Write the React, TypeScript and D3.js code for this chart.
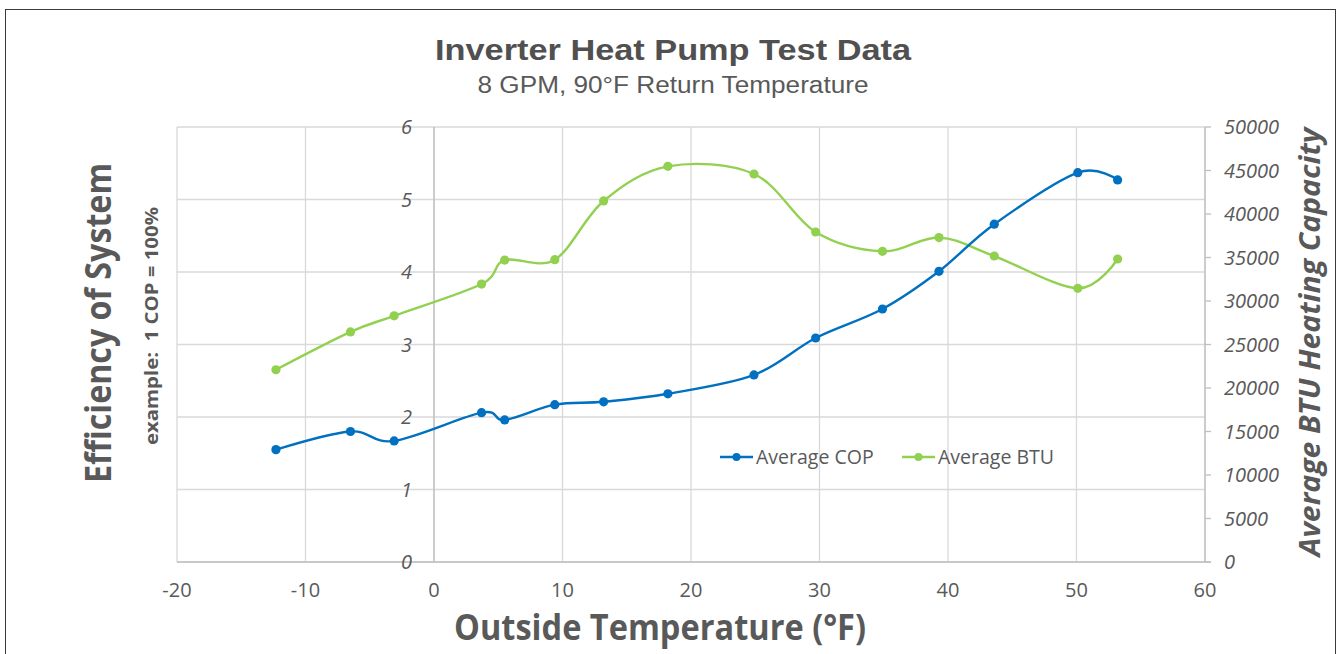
import React from "react";
import { scaleLinear, line, curveCardinal } from "d3";

// outside temperature (°F) of each test run
const temps = [-12.3, -6.5, -3.1, 3.7, 5.5, 9.4, 13.2, 18.2, 24.9, 29.7, 34.9, 39.3, 43.6, 50.1, 53.2];
// average COP per run (left axis)
const copValues = [1.55, 1.8, 1.67, 2.06, 1.96, 2.17, 2.21, 2.32, 2.58, 3.09, 3.49, 4.01, 4.66, 5.37, 5.27];
// average BTU heating capacity per run (right axis)
const btuValues = [22100, 26450, 28300, 31950, 34700, 34750, 41500, 45480, 44600, 37930, 35710, 37290, 35170, 31460, 34830];

const xTicks = [-20, -10, 0, 10, 20, 30, 40, 50, 60];
const copTicks = [0, 1, 2, 3, 4, 5, 6];
const btuTicks = [0, 5000, 10000, 15000, 20000, 25000, 30000, 35000, 40000, 45000, 50000];

const seriesNames = ["Average COP", "Average BTU"];
const BLUE = "#0070C0";
const GREEN = "#92D050";
const GREY = "#595959";
const FONT = "'Open Sans', sans-serif";
const NARROW = "'Liberation Sans Narrow', 'Liberation Sans', sans-serif";

const W = 1341;
const H = 654;
const plot = { left: 177, right: 1205, top: 127, bottom: 562 };

export default function App() {
  const x = scaleLinear().domain([-20, 60]).range([plot.left, plot.right]);
  const yCop = scaleLinear().domain([0, 6]).range([plot.bottom, plot.top]);
  const yBtu = scaleLinear().domain([0, 50000]).range([plot.bottom, plot.top]);

  const copLine = line<number>()
    .x((_, i) => x(temps[i]))
    .y(d => yCop(d))
    .curve(curveCardinal);
  const btuLine = line<number>()
    .x((_, i) => x(temps[i]))
    .y(d => yBtu(d))
    .curve(curveCardinal);

  const legendY = 457;

  return (
    <svg
      width={W}
      height={H}
      style={{ position: "absolute", left: 0, top: 0, background: "#fff" }}
    >
      <rect x={5.5} y={9.5} width={1330} height={700} fill="#fff" stroke="#3a3a3a" strokeWidth={1} />

      {/* titles */}
      <text x={673} y={60} textAnchor="middle" fontFamily={NARROW} fontWeight="bold" fontSize={30} fill="#505050"
        textLength={476} lengthAdjust="spacingAndGlyphs">
        Inverter Heat Pump Test Data
      </text>
      <text x={673} y={93} textAnchor="middle" fontFamily={NARROW} fontSize={23} fill={GREY}
        textLength={391} lengthAdjust="spacingAndGlyphs">
        8 GPM, 90°F Return Temperature
      </text>

      {/* gridlines */}
      {copTicks.map(t => (
        <line key={"h" + t} x1={plot.left} x2={plot.right} y1={yCop(t)} y2={yCop(t)} stroke="#d9d9d9" strokeWidth={1.3} />
      ))}
      {xTicks.map(t => (
        <line key={"v" + t} x1={x(t)} x2={x(t)} y1={plot.top} y2={plot.bottom} stroke="#d9d9d9" strokeWidth={1.3} />
      ))}
      {/* axes lines */}
      <line x1={x(0)} x2={x(0)} y1={plot.top} y2={plot.bottom} stroke="#bfbfbf" strokeWidth={1.3} />
      <line x1={plot.left} x2={plot.right + 6} y1={plot.bottom} y2={plot.bottom} stroke="#bfbfbf" strokeWidth={1.5} />
      <line x1={plot.right} x2={plot.right} y1={plot.top} y2={plot.bottom} stroke="#bfbfbf" strokeWidth={1.3} />
      {btuTicks.map(t => (
        <line key={"rt" + t} x1={plot.right} x2={plot.right + 6} y1={yBtu(t)} y2={yBtu(t)} stroke="#bfbfbf" strokeWidth={1.3} />
      ))}

      {/* tick labels */}
      {copTicks.map(t => (
        <text key={"lc" + t} x={x(0) - 22} y={yCop(t) + 7} textAnchor="end" fontFamily={FONT} fontStyle="italic"
          fontSize={20} fill={GREY}>
          {t}
        </text>
      ))}
      {btuTicks.map(t => (
        <text key={"lb" + t} x={plot.right + 19} y={yBtu(t) + 7} textAnchor="start" fontFamily={FONT} fontStyle="italic"
          fontSize={20} fill={GREY}>
          {t}
        </text>
      ))}
      {xTicks.map(t => (
        <text key={"lx" + t} x={x(t)} y={597} textAnchor="middle" fontFamily={FONT} fontSize={20} fill={GREY}>
          {t}
        </text>
      ))}

      {/* axis titles */}
      <text x={660} y={640} textAnchor="middle" fontFamily={FONT} fontWeight="bold" fontSize={35} fill={GREY}
        textLength={412} lengthAdjust="spacingAndGlyphs">
        Outside Temperature (°F)
      </text>
      <text transform="translate(111,323) rotate(-90)" textAnchor="middle" fontFamily={FONT} fontWeight="bold"
        fontSize={35} fill={GREY} textLength={320} lengthAdjust="spacingAndGlyphs">
        Efficiency of System
      </text>
      <text transform="translate(158,326) rotate(-90)" textAnchor="middle" fontFamily={FONT} fontWeight="bold"
        fontSize={17} fill={GREY} textLength={238} lengthAdjust="spacingAndGlyphs" style={{ whiteSpace: "pre" }}>
        {"example:  1 COP = 100%"}
      </text>
      <text transform="translate(1320,342) rotate(-90)" textAnchor="middle" fontFamily={FONT} fontWeight="bold"
        fontStyle="italic" fontSize={28} fill={GREY} textLength={429} lengthAdjust="spacingAndGlyphs">
        Average BTU Heating Capacity
      </text>

      {/* series */}
      <path d={btuLine(btuValues) ?? ""} fill="none" stroke={GREEN} strokeWidth={2.4} />
      {btuValues.map((v, i) => (
        <circle key={"gb" + i} cx={x(temps[i])} cy={yBtu(v)} r={4.6} fill={GREEN} />
      ))}
      <path d={copLine(copValues) ?? ""} fill="none" stroke={BLUE} strokeWidth={2.4} />
      {copValues.map((v, i) => (
        <circle key={"bc" + i} cx={x(temps[i])} cy={yCop(v)} r={4.6} fill={BLUE} />
      ))}

      {/* legend */}
      {[BLUE, GREEN].map((c, i) => {
        const lx = i === 0 ? 720 : 902;
        return (
          <g key={"lg" + i}>
            <line x1={lx} x2={lx + 33} y1={legendY} y2={legendY} stroke={c} strokeWidth={2.4} />
            <circle cx={lx + 16.5} cy={legendY} r={4} fill={c} />
            <text x={lx + 36} y={legendY + 7} fontFamily={FONT} fontSize={19.5} fill={GREY}>
              {seriesNames[i]}
            </text>
          </g>
        );
      })}
    </svg>
  );
}
